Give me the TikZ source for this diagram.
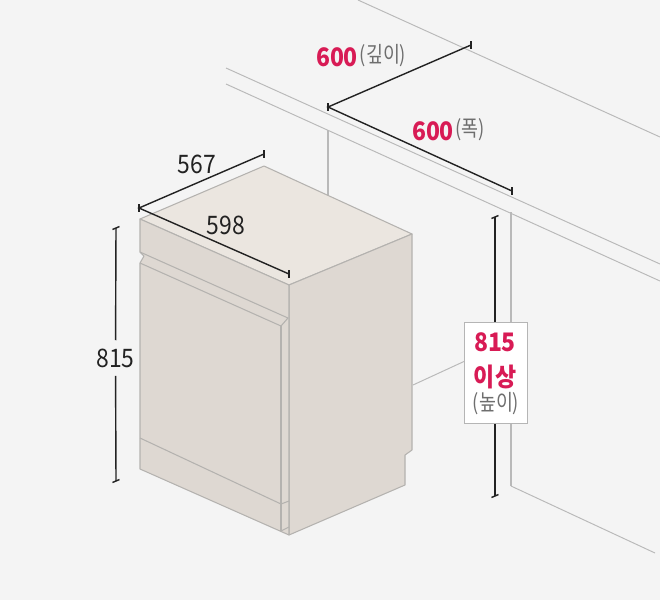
\documentclass[tikz,border=0pt]{standalone}
\usepackage{fontspec}
\setmainfont[FakeStretch=0.9]{Noto Sans CJK KR}
\newfontfamily\krthin[FakeStretch=0.84]{Noto Sans CJK KR}
\usepackage{xcolor}
\definecolor{pagebg}{HTML}{F4F4F4}
\definecolor{topface}{HTML}{EBE6E0}
\definecolor{sideface}{HTML}{DED8D2}
\definecolor{edgeline}{HTML}{B4B2AF}
\definecolor{wallline}{HTML}{B9B9B9}
\definecolor{boxline}{HTML}{B5B5B5}
\definecolor{dimline}{HTML}{222222}
\definecolor{sizered}{HTML}{D81B55}
\definecolor{notegray}{HTML}{6E6E6E}
\tikzset{
	wall/.style={draw=wallline, line width=0.55pt},
	face/.style={draw=edgeline, line width=0.6pt, line join=round},
	dim/.style={draw=dimline, line width=0.8pt},
	sizetext/.style={font=\fontsize{14.5}{16}\selectfont\bfseries, text=sizered, inner sep=0pt},
	notetext/.style={font=\krthin\fontsize{12.5}{15}\selectfont, text=notegray, inner sep=0pt},
	plaintext/.style={font=\fontsize{14.5}{16}\selectfont, text=dimline, inner sep=0pt}
}
\begin{document}
\begin{tikzpicture}[x=0.02cm, y=-0.02cm]
		\useasboundingbox (0,0) rectangle (660,600);
		\fill[pagebg] (0,0) rectangle (660,600);
		% wall and counter
		\draw[wall] (358,0) -- (660,137);
		\draw[wall] (226,68) -- (660,264);
		\draw[wall] (226,84) -- (660,281);
		\draw[wall, line width=0.8pt] (328,130) -- (328,200);
		\draw[wall, line width=0.8pt] (511,212) -- (511,486);
		\draw[wall] (511,486) -- (655,553);
		\draw[wall] (413,385) -- (465,361);
		% appliance
		\filldraw[face, fill=topface] (140,219) -- (264,166) -- (412,234) -- (289,285) -- cycle;
		\filldraw[face, fill=sideface] (289,285) -- (412,234) -- (412,450) -- (405,455) -- (405,485) -- (289,535) -- cycle;
		\filldraw[face, fill=sideface] (140,219) -- (289,285) -- (289,535) -- (140,469) -- (140,263) -- (144,256) -- (140,252) -- cycle;
		\draw[face] (140,252) -- (288,318) -- (281,326) -- (140,263);
		\draw[face] (281,326) -- (281,531);
		\draw[face] (140,438) -- (281,504) -- (289,501);
		\draw[face] (281,531) -- (289,527);
		% sizes of the appliance
		\coordinate (corner) at (139,208);
		\coordinate (deepend) at (264,154);
		\coordinate (wideend) at (289,274);
		\coordinate (hightop) at (116,228);
		\coordinate (highend) at (116,481);
		\node[plaintext] (deeplabel) at (197,164) {567};
		\node[plaintext] (widelabel) at (226,225) {598};
		\node[plaintext, inner ysep=0.16cm] (highlabel) at (115.5,358) {815};
		\draw[dim] (deepend) -- (corner) -- (wideend);
		\draw[dim] (hightop) -- (highlabel) -- (highend);
		\draw[dim] (corner) ++(0,-4) -- ++(0,8);
		\draw[dim] (deepend) ++(0,-4) -- ++(0,8);
		\draw[dim] (wideend) ++(0,-4) -- ++(0,8);
		\draw[dim] (hightop) ++(-3.5,1.5) -- ++(7,-3);
		\draw[dim] (highend) ++(-3.5,1.5) -- ++(7,-3);
		% sizes of the opening
		\coordinate (opencorner) at (328,107);
		\coordinate (opendeep) at (471,45);
		\coordinate (openwide) at (512,191);
		\coordinate (opentop) at (495,217);
		\coordinate (openend) at (495,496);
		\draw[dim] (opendeep) -- (opencorner) -- (openwide);
		\draw[dim] (opentop) -- (openend);
		\draw[dim] (opencorner) ++(0,-4) -- ++(0,8);
		\draw[dim] (opendeep) ++(0,-4) -- ++(0,8);
		\draw[dim] (openwide) ++(0,-4) -- ++(0,8);
		\draw[dim] (opentop) ++(-3.5,1.5) -- ++(7,-3);
		\draw[dim] (openend) ++(-3.5,1.5) -- ++(7,-3);
		\node[sizetext] (opendeeplabel) at (337,57) {600};
		\node[notetext] (opendeepnote) at (383,56) {(깊이)};
		\node[sizetext] (openwidelabel) at (433,131) {600};
		\node[notetext] (openwidenote) at (470,130) {(폭)};
		\node[draw=boxline, fill=white, line width=0.55pt, minimum width=1.26cm, minimum height=2.02cm, inner sep=0pt] (heightbox) at (495.5,372.5) {};
		\node[sizetext] (openhighlabel) at (495,342) {815};
		\node[sizetext] (openhighmore) at (495,377) {이상};
		\node[notetext] (openhighnote) at (496,404) {(높이)};
	\end{tikzpicture}
\end{document}
